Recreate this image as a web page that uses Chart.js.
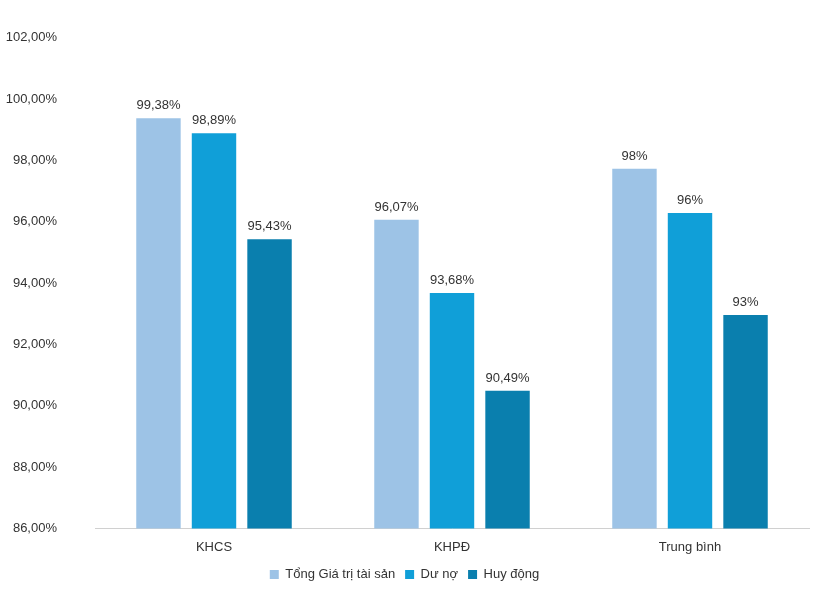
<!DOCTYPE html>
<html>
<head>
<meta charset="utf-8">
<script src="https://cdn.jsdelivr.net/npm/chart.js@4"></script>
<style>
  html, body { margin: 0; padding: 0; background: #fff; }
  #wrap { width: 819px; height: 595px; }
</style>
</head>
<body>
<div id="wrap"><canvas id="chart"></canvas></div>
<script>
const categories = ["KHCS", "KHPĐ", "Trung bình"];
const seriesNames = ["Tổng Giá trị tài sản", "Dư nợ", "Huy động"];
const totalAssets = [99.38, 96.07, 97.73];
const loans = [98.89, 93.68, 96.29];
const deposits = [95.43, 90.49, 92.96];
const totalAssetsLabels = ["99,38%", "96,07%", "98%"];
const loansLabels = ["98,89%", "93,68%", "96%"];
const depositsLabels = ["95,43%", "90,49%", "93%"];
const colors = ["#9dc3e6", "#109fd8", "#0a7fae"];

const labelSets = [totalAssetsLabels, loansLabels, depositsLabels];

// draws the value text above each bar
const barLabels = {
  id: "barLabels",
  afterDatasetsDraw(chart) {
    const ctx = chart.ctx;
    ctx.save();
    ctx.font = "13px 'Liberation Sans', Arial, sans-serif";
    ctx.fillStyle = "#333";
    ctx.textAlign = "center";
    ctx.textBaseline = "bottom";
    chart.data.datasets.forEach((ds, i) => {
      chart.getDatasetMeta(i).data.forEach((bar, j) => {
        ctx.fillText(labelSets[i][j], bar.x, bar.y - 6);
      });
    });
    ctx.restore();
  }
};

new Chart(document.getElementById("chart"), {
  type: "bar",
  data: {
    labels: categories,
    datasets: [
      { label: seriesNames[0], data: totalAssets, backgroundColor: colors[0] },
      { label: seriesNames[1], data: loans, backgroundColor: colors[1] },
      { label: seriesNames[2], data: deposits, backgroundColor: colors[2] },
    ],
  },
  options: {
    responsive: true,
    maintainAspectRatio: false,
    animation: false,
    layout: { padding: { left: 0, right: 10, top: -18, bottom: 4 } },
    datasets: { bar: { categoryPercentage: 0.7, barPercentage: 0.8 } },
    scales: {
      x: {
        grid: { display: false },
        border: { color: "#d0d0d0" },
        ticks: { color: "#333", font: { size: 13, family: "'Liberation Sans', Arial, sans-serif" } },
      },
      y: {
        min: 86,
        max: 102,
        grid: { display: false },
        border: { display: false },
        ticks: {
          stepSize: 2,
          color: "#333",
          padding: 30,
          font: { size: 13, family: "'Liberation Sans', Arial, sans-serif" },
          callback: (v) => v.toFixed(2).replace(".", ",") + "%",
        },
        afterFit: (axis) => { axis.width = 95; },
      },
    },
    plugins: {
      legend: {
        position: "bottom",
        labels: {
          boxWidth: 9,
          boxHeight: 9,
          color: "#333",
          font: { size: 13, family: "'Liberation Sans', Arial, sans-serif" },
        },
      },
      tooltip: { enabled: false },
    },
  },
  plugins: [barLabels],
});
</script>
</body>
</html>
